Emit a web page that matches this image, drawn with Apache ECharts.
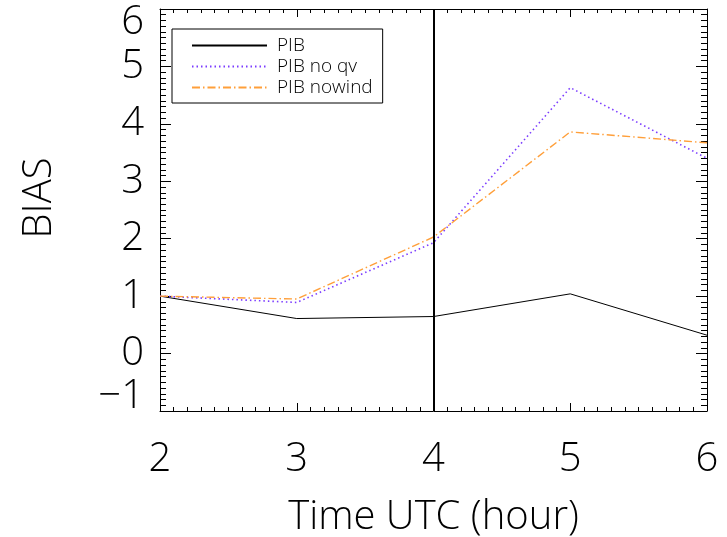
<!DOCTYPE html>
<html>
<head>
<meta charset="utf-8">
<script src="https://cdn.jsdelivr.net/npm/echarts@6/dist/echarts.min.js"></script>
<style>html,body{margin:0;padding:0;background:#fff}#c{width:727px;height:537px}</style>
</head>
<body>
<div id="c"></div>
<script>
const hours = [2, 3, 4, 5, 6];
const pib = [1.0, 0.61, 0.645, 1.04, 0.32];
const pibNoQv = [1.0, 0.89, 1.93, 4.63, 3.40];
const pibNowind = [1.0, 0.95, 2.03, 3.86, 3.67];
const seriesNames = ['PIB', 'PIB no qv', 'PIB nowind'];
const markerHour = 4;
const xTicks = {min: 2, max: 6, interval: 1};
const yTicks = {min: -1, max: 6, interval: 1};

const FONT = '"Open Sans", Roboto, sans-serif';
const FW = 300;
const pairs = (vals) => hours.map((h, i) => [h, vals[i]]);

const chart = echarts.init(document.getElementById('c'), null, {renderer: 'canvas'});

const axisLineStyle = {color: '#000', width: 1};
const xAxisBase = {
  type: 'value', min: xTicks.min, max: xTicks.max, interval: xTicks.interval,
  axisLine: {show: true, onZero: false, lineStyle: axisLineStyle},
  axisTick: {show: true, inside: true, length: 8, lineStyle: {color: '#000'}},
  minorTick: {show: true, splitNumber: 10, length: 4, lineStyle: {color: '#000'}},
  splitLine: {show: false}
};
const yAxisBase = {
  type: 'value', min: yTicks.min, max: yTicks.max, interval: yTicks.interval,
  axisLine: {show: true, onZero: false, lineStyle: axisLineStyle},
  axisTick: {show: true, inside: true, length: 11, lineStyle: {color: '#000'}},
  minorTick: {show: true, splitNumber: 10, length: 6, lineStyle: {color: '#000'}},
  splitLine: {show: false}
};

chart.setOption({
  animation: false,
  backgroundColor: '#fff',
  grid: {left: 160, right: 20, top: 9, bottom: 126, containLabel: false, outerBoundsMode: 'none'},
  legend: {
    show: true,
    left: 172, top: 29, width: 228, height: 70,
    orient: 'vertical',
    padding: [7, 10, 6, 19],
    itemGap: 2,
    itemWidth: 75, itemHeight: 18,
    borderColor: '#000', borderWidth: 1,
    itemStyle: {opacity: 0},
    textStyle: {fontFamily: FONT, fontWeight: FW, fontSize: 19, color: '#000', padding: [0, 0, 0, 5]},
    data: seriesNames.map(n => ({name: n}))
  },
  xAxis: [
    Object.assign({}, xAxisBase, {
      position: 'bottom',
      name: 'Time UTC (hour)', nameLocation: 'middle', nameGap: 87,
      nameTextStyle: {fontFamily: FONT, fontWeight: FW, fontSize: 40, color: '#000'},
      axisLabel: {show: true, margin: 29, fontFamily: FONT, fontWeight: FW, fontSize: 40, color: '#000'}
    }),
    Object.assign({}, xAxisBase, {position: 'top', axisLabel: {show: false}})
  ],
  yAxis: [
    Object.assign({}, yAxisBase, {
      position: 'left',
      name: 'BIAS', nameLocation: 'middle', nameGap: 100, nameRotate: 90,
      nameTextStyle: {fontFamily: FONT, fontWeight: FW, fontSize: 40, color: '#000', padding: [0, 0, 0, 24]},
      axisLabel: {
        show: true, margin: 16, fontFamily: FONT, fontWeight: FW, fontSize: 40, lineHeight: 28, color: '#000',
        showMinLabel: true, showMaxLabel: true, hideOverlap: false,
        verticalAlignMaxLabel: 'top', verticalAlignMinLabel: 'bottom',
        formatter: v => String(v).replace('-', '\u2212')
      }
    }),
    Object.assign({}, yAxisBase, {position: 'right', axisLabel: {show: false}})
  ],
  series: [
    {
      name: seriesNames[0], type: 'line', data: pairs(pib), symbol: 'none',
      lineStyle: {color: '#000', width: 1, type: 'solid'}, itemStyle: {color: '#000'},
      markLine: {
        silent: true, symbol: 'none', label: {show: false},
        lineStyle: {color: '#000', width: 2, type: 'solid'},
        data: [{xAxis: markerHour}]
      }
    },
    {
      name: seriesNames[1], type: 'line', data: pairs(pibNoQv), symbol: 'none',
      lineStyle: {color: '#7b3cff', width: 1.6, type: [1.5, 3]}, itemStyle: {color: '#7b3cff'}
    },
    {
      name: seriesNames[2], type: 'line', data: pairs(pibNowind), symbol: 'none',
      lineStyle: {color: '#ff9f3a', width: 1.4, type: [8, 3, 1.5, 3]}, itemStyle: {color: '#ff9f3a'}
    }
  ]
});
</script>
</body>
</html>
